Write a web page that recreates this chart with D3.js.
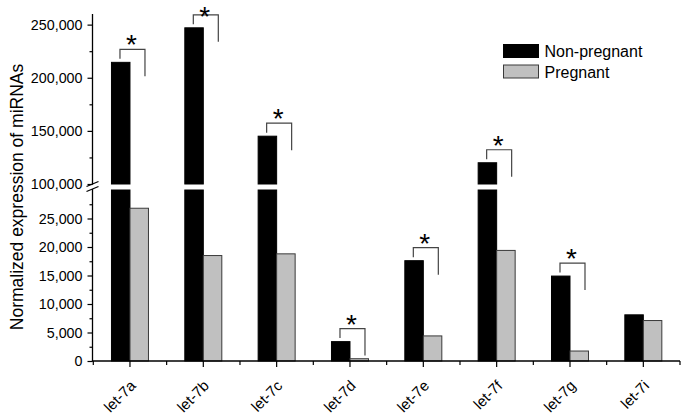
<!DOCTYPE html>
<html>
<head>
<meta charset="utf-8">
<script src="https://cdn.jsdelivr.net/npm/d3@7"></script>
<style>
  html, body { margin: 0; padding: 0; background: #fff; }
  svg { display: block; }
  text { font-family: "Liberation Sans", Arial, sans-serif; fill: #000; }
</style>
</head>
<body>
<svg id="chart" width="685" height="416"></svg>
<script>
// ---- data ----
const categories = ["let-7a", "let-7b", "let-7c", "let-7d", "let-7e", "let-7f", "let-7g", "let-7i"];
const nonPregnant = [214500, 247000, 145000, 3400, 17600, 120000, 14900, 8100];
const pregnant = [26800, 18500, 18800, 400, 4400, 19400, 1750, 7100];
const significant = [true, true, true, true, true, true, true, false];
const seriesNames = ["Non-pregnant", "Pregnant"];
const lowTicks = [0, 5000, 10000, 15000, 20000, 25000];
const lowMinorTicks = [2500, 7500, 12500, 17500, 22500, 27500];
const highTicks = [100000, 150000, 200000, 250000];
const highMinorTicks = [125000, 175000, 225000];
const yTitle = "Normalized expression of miRNAs";

// ---- layout ----
const svg = d3.select("#chart");
const axisX = 92.5;
const baseY = 361;
const lowTop = 190;
const highBottom = 184;
const highTop = 14;
const lowMax = 30000;
const highMin = 100000, highMax = 260000;

const x = d3.scaleBand().domain(categories).range([93.3, 680]).padding(0);
const yLow = d3.scaleLinear().domain([0, lowMax]).range([baseY, lowTop]);
const yHigh = d3.scaleLinear().domain([highMin, highMax]).range([highBottom, highTop]);
const barW = 18.5;
const colors = ["#000000", "#c0c0c0"];
const strokes = ["#000000", "#3a3a3a"];

function barTopY(v) { return v > lowMax ? yHigh(v) : yLow(v); }

// ---- bars ----
const gBars = svg.append("g");
[nonPregnant, pregnant].forEach((vals, s) => {
  categories.forEach((c, i) => {
    const v = vals[i];
    const cx = x(c) + x.bandwidth() / 2;
    const bx = s === 0 ? cx - barW : cx;
    if (v > lowMax) {
      gBars.append("rect").attr("x", bx).attr("y", yLow(lowMax))
        .attr("width", barW).attr("height", yLow(0) - yLow(lowMax))
        .attr("fill", colors[s]).attr("stroke", strokes[s]).attr("stroke-width", 1);
      gBars.append("rect").attr("x", bx).attr("y", yHigh(v))
        .attr("width", barW).attr("height", yHigh(highMin) - yHigh(v))
        .attr("fill", colors[s]).attr("stroke", strokes[s]).attr("stroke-width", 1);
    } else {
      gBars.append("rect").attr("x", bx).attr("y", yLow(v))
        .attr("width", barW).attr("height", yLow(0) - yLow(v))
        .attr("fill", colors[s]).attr("stroke", strokes[s]).attr("stroke-width", 1);
    }
  });
});

// ---- significance brackets ----
const gSig = svg.append("g");
const starSize = 28;
categories.forEach((c, i) => {
  if (!significant[i]) return;
  const cx = x(c) + x.bandwidth() / 2;
  const top = barTopY(nonPregnant[i]) - 13;
  const lx = cx - 10, rx = cx + 15;
  gSig.append("path")
    .attr("d", `M${lx},${top + 9.5}V${top}H${rx}V${top + 27}`)
    .attr("fill", "none").attr("stroke", "#444").attr("stroke-width", 1.2);
  gSig.append("text").attr("x", (lx + rx) / 2 - 1)
    .attr("y", Math.max(top + 5, starSize * 0.93))
    .attr("text-anchor", "middle").attr("font-size", starSize).text("*");
});

// ---- y axes ----
const fmt = d3.format(",");
const gLow = svg.append("g").attr("transform", `translate(${axisX},0)`)
  .call(d3.axisLeft(yLow).tickValues(lowTicks).tickFormat(fmt).tickSize(5).tickSizeOuter(0).tickPadding(5));
const gLowMinor = svg.append("g").attr("transform", `translate(${axisX},0)`)
  .call(d3.axisLeft(yLow).tickValues(lowMinorTicks).tickFormat("").tickSize(3).tickSizeOuter(0));
const gHigh = svg.append("g").attr("transform", `translate(${axisX},0)`)
  .call(d3.axisLeft(yHigh).tickValues(highTicks).tickFormat(fmt).tickSize(5).tickSizeOuter(0).tickPadding(5));
const gHighMinor = svg.append("g").attr("transform", `translate(${axisX},0)`)
  .call(d3.axisLeft(yHigh).tickValues(highMinorTicks).tickFormat("").tickSize(3).tickSizeOuter(0));
[gLow, gLowMinor, gHigh, gHighMinor].forEach(g => {
  g.selectAll(".domain").remove();
  g.selectAll("line").attr("stroke", "#000").attr("stroke-width", 1.2);
  g.selectAll("text").attr("font-size", 14.3).attr("font-family", "Liberation Sans, Arial, sans-serif").attr("fill", "#000");
});
// axis line segments with break
svg.append("line").attr("x1", axisX).attr("x2", axisX).attr("y1", yLow(0)).attr("y2", yLow(lowMax) - 1)
  .attr("stroke", "#000").attr("stroke-width", 1.3);
svg.append("line").attr("x1", axisX).attr("x2", axisX).attr("y1", yHigh(highMin) + 0.5).attr("y2", yHigh(highMax))
  .attr("stroke", "#000").attr("stroke-width", 1.3);
// break marks
[yHigh(highMin), yLow(lowMax) - 1].forEach(yy => {
  svg.append("line").attr("x1", axisX - 6).attr("x2", axisX + 6)
    .attr("y1", yy + 2.5).attr("y2", yy - 2.5)
    .attr("stroke", "#000").attr("stroke-width", 1.2);
});

// ---- x axis ----
const gX = svg.append("g").attr("transform", `translate(0,${baseY})`)
  .call(d3.axisBottom(x).tickSize(6).tickSizeOuter(0).tickPadding(6));
gX.select(".domain").remove();
gX.selectAll("line").attr("stroke", "#000").attr("stroke-width", 1.2);
gX.selectAll("text")
  .attr("font-size", 15).attr("font-family", "Liberation Sans, Arial, sans-serif").attr("fill", "#000")
  .attr("text-anchor", "end")
  .attr("x", 0).attr("y", 0).attr("dy", "0.35em")
  .attr("transform", "translate(3,22) rotate(-45)");
svg.append("line").attr("x1", axisX - 0.6).attr("x2", 680).attr("y1", baseY).attr("y2", baseY)
  .attr("stroke", "#000").attr("stroke-width", 1.3);
// minor ticks at band boundaries
const boundaries = categories.map(c => x(c)).concat([x(categories[categories.length - 1]) + x.bandwidth()]);
svg.append("g").selectAll("line").data(boundaries).join("line")
  .attr("x1", d => d).attr("x2", d => d).attr("y1", baseY).attr("y2", baseY + 4)
  .attr("stroke", "#000").attr("stroke-width", 1.2);

// ---- y title ----
svg.append("text")
  .attr("transform", `translate(23,197) rotate(-90)`)
  .attr("text-anchor", "middle").attr("font-size", 17.5).text(yTitle);

// ---- legend ----
const leg = svg.append("g");
seriesNames.forEach((n, s) => {
  const ly = 44.5 + s * 20.5;
  leg.append("rect").attr("x", 503.5).attr("y", ly).attr("width", 35).attr("height", 13)
    .attr("fill", colors[s]).attr("stroke", strokes[s]).attr("stroke-width", 1);
  leg.append("text").attr("x", 544.5).attr("y", ly + 12.5).attr("font-size", 16).text(n);
});
</script>
</body>
</html>
